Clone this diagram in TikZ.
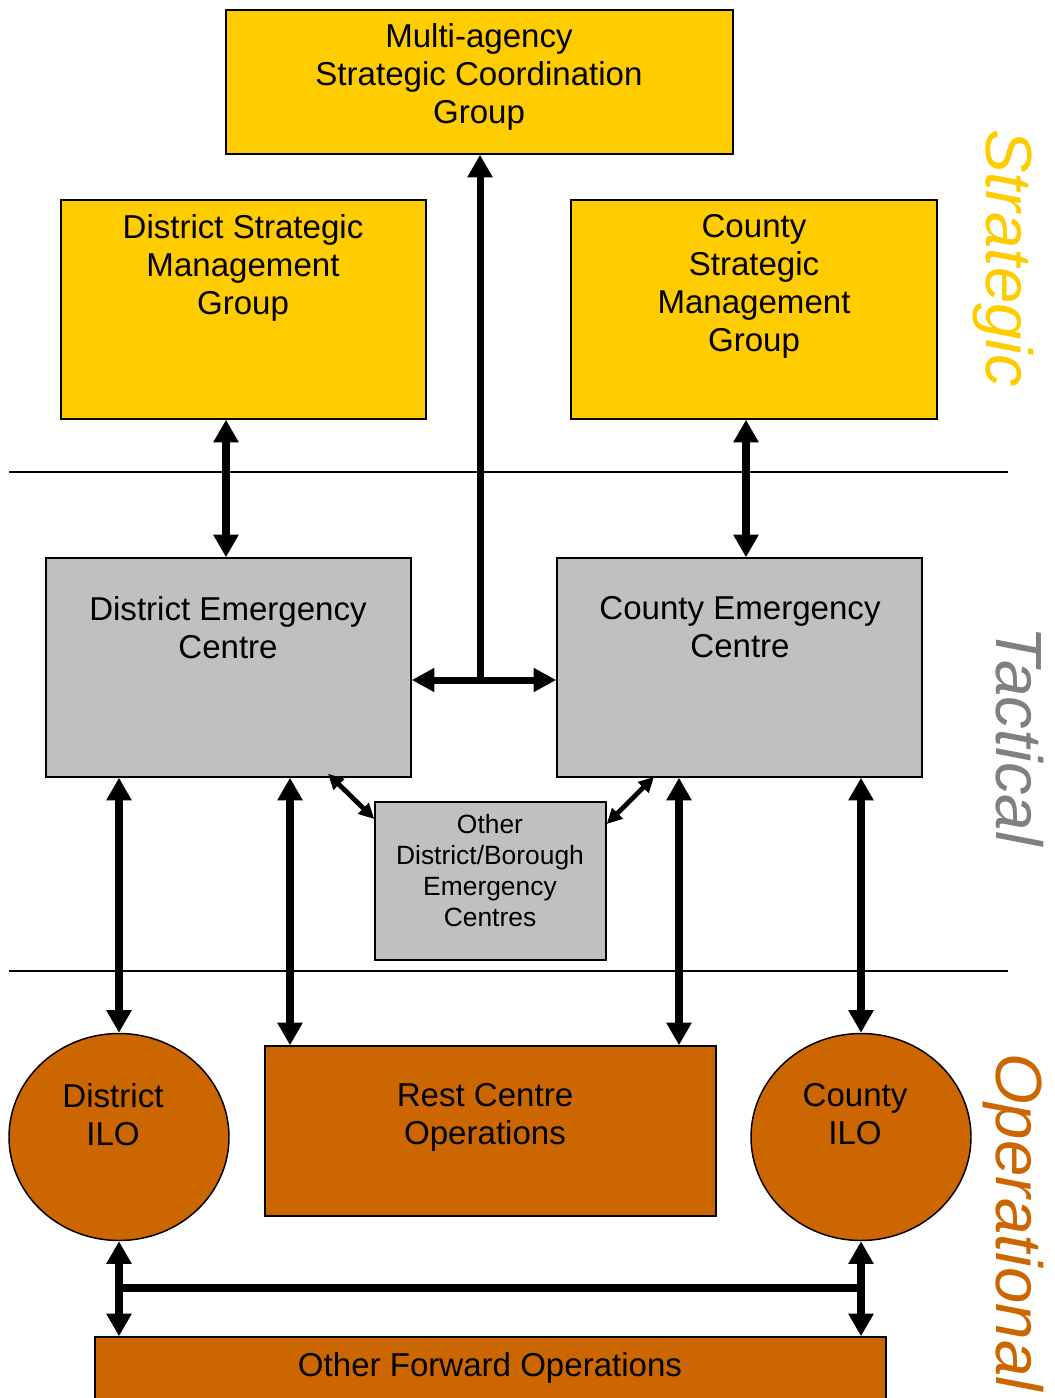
\documentclass[tikz,border=0pt]{standalone}
\usepackage{fontspec}
\setmainfont{Liberation Sans}
\usetikzlibrary{arrows.meta,shapes.geometric,fit}
\definecolor{cyel}{HTML}{FFCC00}
\definecolor{cgry}{HTML}{C0C0C0}
\definecolor{corg}{HTML}{CC6600}
\definecolor{ctac}{HTML}{808080}
\begin{document}
\begin{tikzpicture}[x=0.75pt,y=-0.75pt,
  boxbase/.style={draw=black,line width=1.1pt,inner sep=0pt},
  ybox/.style={boxbase,fill=cyel},
  gbox/.style={boxbase,fill=cgry},
  obox/.style={boxbase,fill=corg},
  obell/.style={boxbase,fill=corg,ellipse,minimum width=165pt,minimum height=155.25pt},
  txt/.style={font=\fontsize{24.8}{28.5}\selectfont,align=center,inner sep=0pt,anchor=north},
  stxt/.style={font=\fontsize{19.8}{23.25}\selectfont,align=center,inner sep=0pt,anchor=north},
  side/.style={font=\fontsize{49}{55}\selectfont\itshape,inner sep=0pt,rotate=-90},
  tip/.style={Triangle[length=17pt,width=18pt]},
  arr/.style={line width=5.5pt,{Triangle[length=17pt,width=18pt]}-{Triangle[length=17pt,width=18pt]}},
  arrone/.style={line width=5.25pt,-{Triangle[length=17pt,width=18pt]}},
  arrh/.style={line width=5.25pt,{Triangle[length=17pt,width=17pt]}-{Triangle[length=17pt,width=17pt]}},
  sarr/.style={line width=3.6pt,{Triangle[length=11.5pt,width=11pt]}-{Triangle[length=11.5pt,width=11pt]}},
  sep/.style={line width=0.8pt,black}]
\useasboundingbox (0,0) rectangle (1054,1398);
\clip (0,0) rectangle (1054,1398);
\fill[white] (0,0) rectangle (1054,1398);

% separators
\coordinate (s1a) at (9,472); \coordinate (s1b) at (1008,472);
\coordinate (s2a) at (9,971); \coordinate (s2b) at (1008,971);
\draw[sep] (s1a) -- (s1b);
\draw[sep] (s2a) -- (s2b);

% boxes
\node[ybox,fit={(226,10) (733,154)}] (mac) {};
\node[ybox,fit={(61,200) (426,419)}] (dsm) {};
\node[ybox,fit={(571,200) (937,419)}] (csm) {};
\node[gbox,fit={(46,558) (411,777)}] (dec) {};
\node[gbox,fit={(557,558) (922,777)}] (cec) {};
\node[gbox,fit={(375,802) (606,960)}] (oth) {};
\node[obell] (dilo) at (119,1137) {};
\node[obell] (cilo) at (861,1137) {};
\node[obox,fit={(265,1046) (716,1216)}] (rest) {};
\node[obox,fit={(95,1337) (886,1440)}] (ofo) {};

% texts
\node[txt] (tmac) at (479,23) {Multi-agency\\Strategic Coordination\\Group};
\node[txt] (tdsm) at (243,214) {District Strategic\\Management\\Group};
\node[txt] (tcsm) at (754,214) {County\\Strategic\\Management\\Group};
\node[txt] (tdec) at (228,596) {District Emergency\\Centre};
\node[txt] (tcec) at (740,596) {County Emergency\\Centre};
\node[stxt] (toth) at (490,814) {Other\\District/Borough\\Emergency\\Centres};
\node[txt] (trest) at (485,1083) {Rest Centre\\Operations};
\node[txt] (tdilo) at (113,1083) {District\\ILO};
\node[txt] (tcilo) at (855,1083) {County\\ILO};
\node[txt] (tofo) at (490,1352) {Other Forward Operations};

% side labels
\node[side,text=cyel] (lstr) at (1003,258) {Strategic};
\node[side,text=ctac] (ltac) at (1020,736) {Tactical};
\node[side,text=corg] (lops) at (1013,1222) {Operational};

% connectors
\coordinate (junc) at (480,680);
\draw[arrone] (junc) -- (mac.south -| junc);
\draw[arrh] (dec.east |- junc) -- (cec.west |- junc);
\draw[arr] (dsm.south -| 226,0) -- (dec.north -| 226,0);
\draw[arr] (csm.south -| 746,0) -- (cec.north -| 746,0);
\draw[arr] (dec.south -| dilo.north) -- (dilo.north);
\draw[arr] (dec.south -| 290,0) -- (rest.north -| 290,0);
\draw[arr] (cec.south -| 679,0) -- (rest.north -| 679,0);
\draw[arr] (cec.south -| cilo.north) -- (cilo.north);
\draw[sarr] ([yshift=3pt]dec.south -| 328,0) -- (oth.west |- 0,819);
\draw[sarr] ([yshift=0.75pt]cec.south -| 654,0) -- (oth.east |- 0,824);
\draw[arr] (dilo.south) -- (ofo.north -| dilo.south);
\draw[arr] (cilo.south) -- (ofo.north -| cilo.south);
\draw[line width=6pt] (dilo.south |- 0,1288) -- (cilo.south |- 0,1288);
\end{tikzpicture}
\end{document}
